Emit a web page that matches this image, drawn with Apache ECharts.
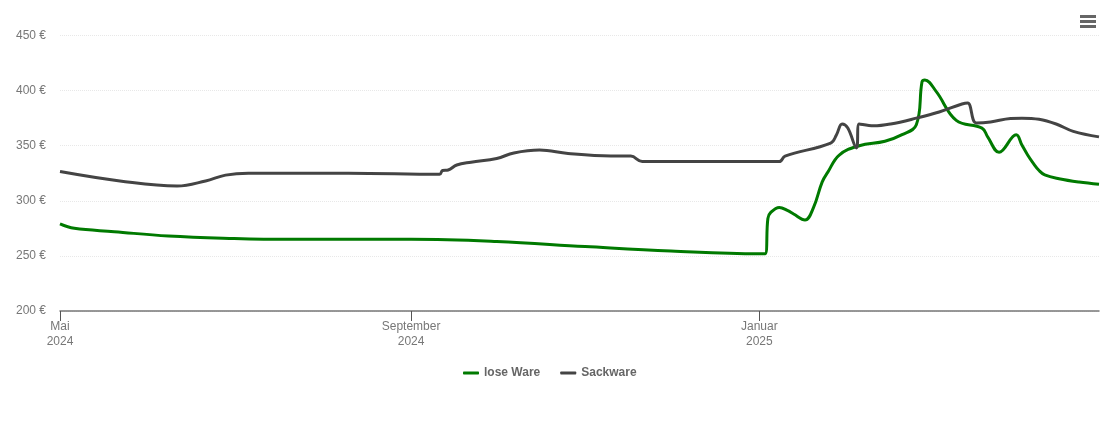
<!DOCTYPE html>
<html>
<head>
<meta charset="utf-8">
<style>html,body{margin:0;padding:0;background:#fff}#box{width:1110px;height:422px}</style>
<script src="https://cdn.jsdelivr.net/npm/echarts@6/dist/echarts.min.js"></script>
</head>
<body>
<div id="box"></div>
<script>
const aLoseDates = ['2024-05-01','2024-05-06','2024-05-20','2024-06-08','2024-07-01','2024-07-20','2024-09-01','2024-10-01','2024-11-01','2024-12-01','2025-01-01','2025-01-03','2025-01-04','2025-01-05','2025-01-08','2025-01-11','2025-01-13','2025-01-17','2025-01-20','2025-01-23','2025-01-25','2025-01-29','2025-02-05','2025-02-14','2025-02-20','2025-02-25','2025-02-27','2025-02-28','2025-03-04','2025-03-11','2025-03-20','2025-03-22','2025-03-26','2025-04-01','2025-04-03','2025-04-05','2025-04-07','2025-04-09','2025-04-11','2025-04-16','2025-04-23','2025-04-30'];
const aLoseValues = [279,275,272,268,265.8,265,265,263,258.5,254.5,252,252,284,289.5,294,291,288,282.6,294,317,326,341.5,350,354,360,369,408,409.6,399,373,366,358,344,360,350.6,341.6,334,327.5,323.5,320,317,315];
const aSackDates = ['2024-05-01','2024-05-22','2024-06-11','2024-06-21','2024-06-28','2024-07-06','2024-07-20','2024-08-10','2024-09-11','2024-09-12','2024-09-14','2024-09-17','2024-09-22','2024-10-01','2024-10-07','2024-10-16','2024-10-26','2024-11-10','2024-11-17','2024-11-21','2025-01-08','2025-01-10','2025-01-26','2025-01-28','2025-01-30','2025-02-01','2025-02-04','2025-02-05','2025-02-10','2025-02-16','2025-02-25','2025-03-05','2025-03-13','2025-03-15','2025-03-18','2025-03-23','2025-03-30','2025-04-03','2025-04-09','2025-04-15','2025-04-21','2025-04-30'];
const aSackValues = [326.5,318,313.4,318,323.3,325,325,325,324,327.5,328,332.5,335,338.4,343.4,346,343,340.7,340.6,335.6,335.6,340.6,352.4,359.7,369.7,366,348,369.7,368,369.7,375,380.6,387.8,388.7,370.6,371.5,374.7,375,374,369.7,363,358];
const aTickDates = ['2024-05-01','2024-09-01','2025-01-01'];
const aTickLabels = ['Mai\n2024','September\n2024','Januar\n2025'];
const sFont = '"Liberation Sans", Arial, sans-serif';

const toTime = sDate=>new Date(sDate + 'T00:00:00Z').getTime();
const aTickTimes = aTickDates.map(toTime);
const zipData = (aDates, aValues)=>aDates.map((cur, i)=>[toTime(cur), aValues[i]]);

const myChart = echarts.init(document.getElementById('box'), null, { renderer: 'canvas' });
myChart.setOption({
    animation: false,
    backgroundColor: '#fff',
    grid: { left: 60, right: 11, top: 35.5, bottom: 111, containLabel: false },
    legend: {
        bottom: 38,
        left: 458,
        icon: 'roundRect',
        itemWidth: 16,
        itemHeight: 3,
        itemGap: 20,
        textStyle: { fontFamily: sFont, fontSize: 12, fontWeight: 'bold', color: '#666' },
    },
    xAxis: {
        type: 'value',
        min: aTickTimes[0],
        max: toTime('2025-04-30'),
        axisLine: { lineStyle: { color: '#777', width: 1.5 } },
        axisTick: { length: 10, customValues: aTickTimes, lineStyle: { color: '#555' } },
        splitLine: { show: false },
        axisLabel: {
            customValues: aTickTimes,
            margin: 8,
            lineHeight: 15,
            fontFamily: sFont,
            fontSize: 12,
            color: '#777',
            hideOverlap: false,
            showMinLabel: true,
            formatter: val=>aTickLabels[aTickTimes.indexOf(val)] || '',
        },
    },
    yAxis: {
        type: 'value',
        min: 200,
        max: 450,
        interval: 50,
        axisLine: { show: false },
        axisTick: { show: false },
        splitLine: { lineStyle: { color: '#e8e8e8', type: 'dotted', width: 1 } },
        axisLabel: { margin: 14, lineHeight: 14, padding: [3, 0, 0, 0], fontFamily: sFont, fontSize: 12, color: '#777', formatter: '{value} €' },
    },
    series: [
        { name: 'lose Ware', type: 'line', smooth: 0.4, showSymbol: false, data: zipData(aLoseDates, aLoseValues), itemStyle: { color: '#007a00' }, lineStyle: { color: '#007a00', width: 3 } },
        { name: 'Sackware', type: 'line', smooth: 0.4, showSymbol: false, data: zipData(aSackDates, aSackValues), itemStyle: { color: '#444' }, lineStyle: { color: '#444', width: 3 } },
    ],
    // Menü-Symbol oben rechts
    graphic: [15, 20, 25].map(iTop=>({
        type: 'rect',
        shape: { x: 1080, y: iTop, width: 16, height: 3 },
        style: { fill: '#666' },
    })),
});
</script>
</body>
</html>
